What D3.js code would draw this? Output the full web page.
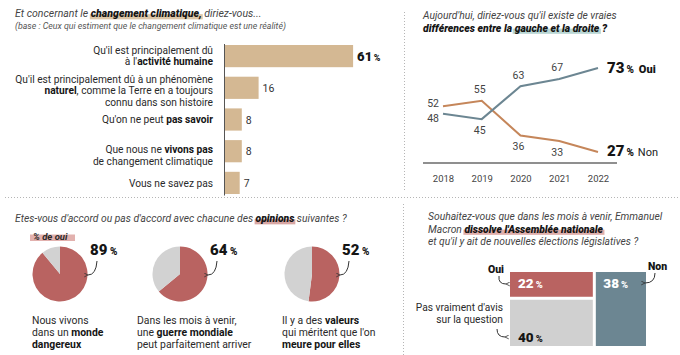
<!DOCTYPE html>
<html><head><meta charset="utf-8">
<script src="https://cdn.jsdelivr.net/npm/d3@7"></script>
<style>
body{margin:0;background:#fff;}
svg{display:block;font-family:Roboto,"Liberation Sans",sans-serif;}
</style></head><body>
<svg id="c" width="680" height="355"></svg>
<script>
// ---------- DATA ----------
const barCategories = [
  ["Qu'il est principalement dû", "à l'**activité humaine**"],
  ["Qu'il est principalement dû à un phénomène", "**naturel**, comme la Terre en a toujours", "connu dans son histoire"],
  ["Qu'on ne peut **pas savoir**"],
  ["Que nous ne **vivons pas**", "de changement climatique"],
  ["Vous ne savez pas"]
];
const barValues = [61, 16, 8, 8, 7];

const years = [2018, 2019, 2020, 2021, 2022];
const ouiValues = [48, 45, 63, 67, 73];
const nonValues = [52, 55, 36, 33, 27];

const pieCaptions = [
  ["Nous vivons", "dans un **monde**", "**dangereux**"],
  ["Dans les mois à venir,", "une **guerre mondiale**", "peut parfaitement arriver"],
  ["Il y a des **valeurs**", "qui méritent que l'on", "**meure pour elles**"]
];
const pieValues = [89, 64, 52];

const dissolveCategories = ["Oui", "Pas vraiment d'avis", "Non"];
const dissolveValues = [22, 40, 38];

// ---------- STYLE ----------
const C = {
  tan: "#d4b893", red: "#b96361", grey: "#d2d2d2", slate: "#6c8692",
  orange: "#c5865a", text: "#333", title: "#444", dark: "#151515"
};

const svg = d3.select("#c");

function rich(parent, str, x, y, o) {
  o = o || {};
  const t = parent.append("text").attr("x", x).attr("y", y)
    .attr("font-size", o.size || 10).attr("fill", o.fill || C.text)
    .attr("text-anchor", o.anchor || "start");
  if (o.italic) t.attr("font-style", "italic");
  const parts = str.split(/(\*\*.*?\*\*|\[\[.*?\]\])/).filter(s => s);
  parts.forEach(p => {
    let s = p, bold = false, hl = false;
    if (p.startsWith("**")) { s = p.slice(2, -2); bold = true; }
    else if (p.startsWith("[[")) { s = p.slice(2, -2); bold = true; hl = true; }
    const ts = t.append("tspan").text(s);
    if (bold) ts.attr("font-weight", o.boldWeight || 700).attr("fill", o.boldFill || C.dark);
    if (hl) ts.attr("class", "hl").attr("data-c", o.hl);
  });
  return t;
}

function applyHighlights() {
  svg.selectAll("tspan.hl").each(function () {
    const b = this.getBBox();
    const txt = this.parentNode;
    const r = document.createElementNS("http://www.w3.org/2000/svg", "rect");
    r.setAttribute("x", b.x - 1);
    r.setAttribute("y", b.y + b.height * 0.55);
    r.setAttribute("width", b.width + 2);
    r.setAttribute("height", b.height * 0.4);
    r.setAttribute("fill", this.getAttribute("data-c"));
    txt.parentNode.insertBefore(r, txt);
  });
}

// ---------- SEPARATORS ----------
const sep = svg.append("g").attr("stroke", "#b5b5b5").attr("stroke-width", 1).attr("stroke-dasharray", "1,2");
sep.append("line").attr("x1", 5).attr("x2", 680).attr("y1", 197.5).attr("y2", 197.5);
sep.append("line").attr("x1", 404.5).attr("x2", 404.5).attr("y1", 12).attr("y2", 191);
sep.append("line").attr("x1", 403.5).attr("x2", 403.5).attr("y1", 204).attr("y2", 355);

// ---------- PANEL 1: BARS ----------
const p1 = svg.append("g");
rich(p1, "Et concernant le [[changement climatique,]] diriez-vous...", 15, 17, {size: 10.5, italic: true, fill: C.title, boldWeight: 900, hl: "#dcc6a7"});
rich(p1, "(base : Ceux qui estiment que le changement climatique est une réalité)", 15, 28.5, {size: 8.8, italic: true, fill: "#555"});

const xBar = d3.scaleLinear().domain([0, 100]).range([225, 435]);
const yBar = d3.scaleBand().domain(d3.range(barValues.length)).range([45, 194]).paddingInner(0.3);

p1.selectAll("rect.bar").data(barValues).join("rect").attr("class", "bar")
  .attr("x", xBar(0)).attr("y", (d, i) => yBar(i))
  .attr("width", d => xBar(d) - xBar(0)).attr("height", yBar.bandwidth())
  .attr("fill", C.tan);
p1.append("line").attr("x1", 224.5).attr("x2", 224.5).attr("y1", 44).attr("y2", 195.5)
  .attr("stroke", "#555").attr("stroke-width", 1);

barCategories.forEach((lines, i) => {
  const cy = yBar(i) + yBar.bandwidth() / 2;
  const lh = 11.5;
  const shift = (lines.length === 2 && i > 0) ? 4 : (lines.length === 3 ? 3 : 0);
  lines.forEach((ln, k) => {
    rich(p1, ln, 213, cy - (lines.length - 1) * lh / 2 + k * lh + 3.6 + shift, {size: 10.2, anchor: "end", fill: "#2a2a2a"});
  });
  const v = barValues[i];
  if (i === 0) {
    const t = p1.append("text").attr("x", xBar(v) + 4).attr("y", cy + 4.5).attr("fill", C.dark).attr("font-weight", 900);
    t.append("tspan").attr("font-size", 13).text(v);
    t.append("tspan").attr("font-size", 9).attr("dx", 1.5).text("%");
  } else {
    p1.append("text").attr("x", xBar(v) + 4).attr("y", cy + 4).attr("font-size", 10.5).attr("fill", C.text).text(v);
  }
});

// ---------- PANEL 2: LINES ----------
const p2 = svg.append("g");
rich(p2, "Aujourd'hui, diriez-vous qu'il existe de vraies", 423, 19, {size: 10.3, italic: true, fill: C.title});
rich(p2, "**différences entre la **[[gauche et la droite]]** ?**", 423, 31.5, {size: 10.4, italic: true, fill: C.title, boldWeight: 900, hl: "#b9d6d4"});

const xLine = d3.scalePoint().domain(years).range([443, 598]);
const yLine = d3.scaleLinear().domain([0, 100]).range([201.3, 18.7]);

p2.append("line").attr("x1", 423).attr("x2", 617).attr("y1", 163).attr("y2", 163)
  .attr("stroke", "#6a6a6a").attr("stroke-width", 1.5);
const ax = p2.append("g").attr("transform", "translate(0,163)")
  .call(d3.axisBottom(xLine).tickSize(0).tickPadding(12).tickFormat(d3.format("d")));
ax.select(".domain").remove();
ax.selectAll("text").attr("font-size", 9.5).attr("fill", "#444").attr("font-family", "Roboto, sans-serif");

const lineGen = d3.line().x((d, i) => xLine(years[i])).y(d => yLine(d));
p2.append("path").attr("d", lineGen(nonValues)).attr("fill", "none").attr("stroke", C.orange).attr("stroke-width", 2);
p2.append("path").attr("d", lineGen(ouiValues)).attr("fill", "none").attr("stroke", C.slate).attr("stroke-width", 2);

years.forEach((yr, i) => {
  const x = xLine(yr);
  const a = ouiValues[i], b = nonValues[i];
  const hi = a > b ? a : b, lo = a > b ? b : a;
  if (i === 0) {
    p2.append("text").attr("x", x - 4).attr("y", yLine(hi) + 0.5).attr("text-anchor", "end").attr("font-size", 10.5).attr("fill", "#444").text(hi);
    p2.append("text").attr("x", x - 4).attr("y", yLine(lo) + 8).attr("text-anchor", "end").attr("font-size", 10.5).attr("fill", "#444").text(lo);
  } else if (i < years.length - 1) {
    p2.append("text").attr("x", x - 2).attr("y", yLine(hi) - 7.5).attr("text-anchor", "middle").attr("font-size", 10.5).attr("fill", "#444").text(hi);
    p2.append("text").attr("x", x - 2).attr("y", yLine(lo) + 14.5).attr("text-anchor", "middle").attr("font-size", 10.5).attr("fill", "#444").text(lo);
  } else {
    const t1 = p2.append("text").attr("x", x + 9).attr("y", yLine(a) + 5).attr("fill", C.dark).attr("font-weight", 900);
    t1.append("tspan").attr("font-size", 15).text(a);
    t1.append("tspan").attr("font-size", 10).attr("dx", 2).text("%");
    t1.append("tspan").attr("font-size", 11).attr("dx", 5).text("Oui");
    const t2 = p2.append("text").attr("x", x + 9).attr("y", yLine(b) + 4.5).attr("fill", C.dark);
    t2.append("tspan").attr("font-size", 15).attr("font-weight", 900).text(b);
    t2.append("tspan").attr("font-size", 10).attr("font-weight", 900).attr("dx", 2).text("%");
    t2.append("tspan").attr("font-size", 11).attr("dx", 4).attr("fill", "#222").text("Non");
  }
});

// ---------- PANEL 3: PIES ----------
const p3 = svg.append("g");
rich(p3, "Etes-vous d'accord ou pas d'accord avec chacune des [[opinions]] suivantes ?", 15, 222, {size: 10.3, italic: true, fill: C.title, boldWeight: 900, hl: "#d8a6a3"});
p3.append("rect").attr("x", 30).attr("y", 234.5).attr("width", 45).attr("height", 6.5).attr("fill", "#e2b1ae");
p3.append("text").attr("x", 33).attr("y", 239.5).attr("font-size", 9.5).attr("font-style", "italic").attr("font-weight", 700).attr("fill", "#2a2a2a").text("% de oui");

const defs = svg.append("defs");
defs.append("marker").attr("id", "ah").attr("viewBox", "0 0 8 8").attr("refX", 1).attr("refY", 4)
  .attr("markerWidth", 5).attr("markerHeight", 5).attr("orient", "auto-start-reverse").attr("markerUnits", "userSpaceOnUse")
  .append("path").attr("d", "M7,1 L1,4 L7,7").attr("fill", "none").attr("stroke", "#333").attr("stroke-width", 1.3);

const pieX = d3.scaleOrdinal().domain(d3.range(3)).range([60, 180, 312]);
const capX = d3.scaleOrdinal().domain(d3.range(3)).range([32, 137, 282]);
const pieGen = d3.pie().sort(null);
const R = 27.5, pieCY = 274;
const arcGen = d3.arc().innerRadius(0).outerRadius(R);

pieValues.forEach((v, i) => {
  const cx = pieX(i);
  const g = p3.append("g").attr("transform", `translate(${cx},${pieCY})`);
  g.selectAll("path").data(pieGen([v, 100 - v])).join("path")
    .attr("d", arcGen).attr("fill", (d, k) => k === 0 ? C.red : C.grey);
  const t = p3.append("text").attr("x", cx + 30).attr("y", 255).attr("fill", C.dark).attr("font-weight", 900);
  t.append("tspan").attr("font-size", 15).text(v);
  t.append("tspan").attr("font-size", 10).attr("dx", 2.5).text("%");
  p3.append("path").attr("d", `M${cx + 37},${261} Q${cx + 36},${275} ${cx + 28},${275}`)
    .attr("fill", "none").attr("stroke", "#333").attr("stroke-width", 1).attr("marker-end", "url(#ah)");
  pieCaptions[i].forEach((ln, k) => {
    rich(p3, ln, capX(i), 324 + k * 11.8, {size: 10.4, fill: "#2a2a2a"});
  });
});

// ---------- PANEL 4: MOSAIC ----------
const p4 = svg.append("g");
rich(p4, "Souhaitez-vous que dans les mois à venir, Emmanuel", 428, 220, {size: 10.3, italic: true, fill: C.title});
rich(p4, "Macron [[dissolve l'Assemblée nationale]]", 428, 232.5, {size: 10.3, italic: true, fill: C.title, boldWeight: 900, hl: "#dfaeab"});
rich(p4, "et qu'il y ait de nouvelles élections législatives ?", 428, 245, {size: 10.3, italic: true, fill: C.title});

const leftTotal = dissolveValues[0] + dissolveValues[1];
const xMos = d3.scaleLinear().domain([0, 100]).range([510, 646]);
const yMosL = d3.scaleLinear().domain([0, leftTotal]).range([272, 346]);
const gap = 1.5;
// Oui
p4.append("rect").attr("x", xMos(0)).attr("y", yMosL(0))
  .attr("width", xMos(leftTotal) - xMos(0) - gap).attr("height", yMosL(dissolveValues[0]) - yMosL(0) - gap)
  .attr("fill", C.red);
// Pas d'avis
p4.append("rect").attr("x", xMos(0)).attr("y", yMosL(dissolveValues[0]) + gap)
  .attr("width", xMos(leftTotal) - xMos(0) - gap).attr("height", yMosL(leftTotal) - yMosL(dissolveValues[0]) - gap)
  .attr("fill", "#d0d0d0");
// Non
p4.append("rect").attr("x", xMos(leftTotal) + gap).attr("y", yMosL(0))
  .attr("width", xMos(100) - xMos(leftTotal) - gap).attr("height", yMosL(leftTotal) - yMosL(0))
  .attr("fill", C.slate);

function pct(g, v, x, y, fill) {
  const t = g.append("text").attr("x", x).attr("y", y).attr("fill", fill).attr("font-weight", 900);
  t.append("tspan").attr("font-size", 13.5).text(v);
  t.append("tspan").attr("font-size", 9.5).attr("dx", 2).text("%");
}
pct(p4, dissolveValues[0], xMos(0) + 8, 288, "#fff");
pct(p4, dissolveValues[2], xMos(leftTotal) + 9, 288, "#fff");
pct(p4, dissolveValues[1], xMos(0) + 8, 341.5, C.dark);

p4.append("text").attr("x", 504).attr("y", 273).attr("text-anchor", "end").attr("font-size", 10.5).attr("font-weight", 900).attr("fill", C.dark).text(dissolveCategories[0]);
p4.append("path").attr("d", "M499,276 Q498,284 506,284").attr("fill", "none").attr("stroke", "#333").attr("stroke-width", 1).attr("marker-end", "url(#ah)");

p4.append("text").attr("x", 648).attr("y", 270).attr("font-size", 10.5).attr("font-weight", 900).attr("fill", C.dark).text(dissolveCategories[2]);
p4.append("path").attr("d", "M655,273 Q655,283 645,283").attr("fill", "none").attr("stroke", "#333").attr("stroke-width", 1).attr("marker-end", "url(#ah)");

rich(p4, "Pas vraiment d'avis", 503, 311, {size: 10.2, anchor: "end", fill: "#2a2a2a"});
rich(p4, "sur la question", 503, 323, {size: 10.2, anchor: "end", fill: "#2a2a2a"});
p4.append("path").attr("d", "M497,329 Q497,337 505,337").attr("fill", "none").attr("stroke", "#333").attr("stroke-width", 1).attr("marker-end", "url(#ah)");

applyHighlights();
</script>
</body></html>
